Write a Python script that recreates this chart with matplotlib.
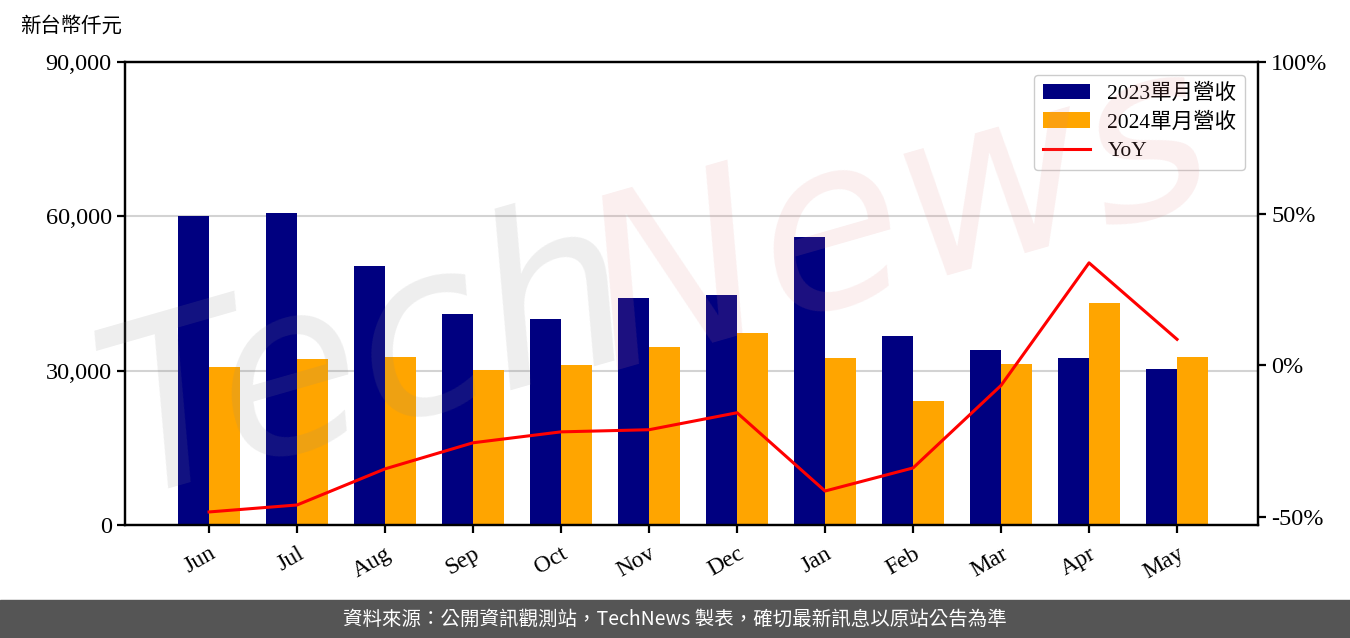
import matplotlib.pyplot as plt
import numpy as np

plt.rcParams["font.family"] = ["Liberation Serif", "Noto Sans CJK TC", "DejaVu Sans"]

months = ["Jun", "Jul", "Aug", "Sep", "Oct", "Nov", "Dec", "Jan", "Feb", "Mar", "Apr", "May"]
rev_2023 = [60000, 60600, 50300, 41000, 40000, 44100, 44700, 56000, 36700, 34000, 32450, 30300]
rev_2024 = [30700, 32250, 32650, 30100, 31100, 34600, 37300, 32450, 24100, 31300, 43150, 32650]
yoy = [-48.3, -46.0, -34.1, -25.5, -21.9, -21.2, -15.6, -41.4, -33.8, -6.6, 33.8, 8.6]

left_ticks = [0, 30000, 60000, 90000]
left_labels = ["0", "30,000", "60,000", "90,000"]
right_ticks = [-50, 0, 50, 100]
right_labels = ["-50%", "0%", "50%", "100%"]

fig = plt.figure(figsize=(13.5, 6.38), dpi=100)
ax = fig.add_axes([125 / 1350, 113 / 638, 1133 / 1350, 463 / 638])

x = np.arange(len(months))
w = 0.35
b1 = ax.bar(x - w / 2, rev_2023, w, color="#000080", label="2023單月營收", zorder=2)
b2 = ax.bar(x + w / 2, rev_2024, w, color="#FFA500", label="2024單月營收", zorder=2)

ax.set_ylim(0, 90000)
ax.set_xlim(-0.955, 11.92)
ax.set_yticks(left_ticks)
ax.set_yticklabels(left_labels, fontsize=17.5)
ax.set_xticks(x)
ax.set_xticklabels(months, rotation=30, ha="right", rotation_mode="anchor", fontsize=17)
ax.yaxis.grid(True, color="#d3d3d3", linewidth=1.5, zorder=0)
ax.set_axisbelow(True)
for s in ax.spines.values():
    s.set_linewidth(1.6)
ax.tick_params(width=1.6, length=6)
ax.tick_params(axis="x", pad=7)

ax2 = ax.twinx()
(l1,) = ax2.plot(x, yoy, color="red", linewidth=2.2, label="YoY", zorder=3)
ax2.set_ylim(-52.6, 100)
ax2.set_yticks(right_ticks)
ax2.set_yticklabels(right_labels, fontsize=17.5)
ax2.tick_params(width=1.6, length=6)
for s in ax2.spines.values():
    s.set_linewidth(1.6)

leg = ax2.legend(handles=[b1, b2, l1], loc="upper right", fontsize=15.5,
                 handlelength=2.2, borderaxespad=0.6, framealpha=1,
                 labelspacing=0.4, edgecolor="#cccccc")

fig.text(20 / 1350, 1 - 27 / 638, "新台幣仟元", fontsize=14.7, va="center", ha="left")

# watermark
fig.text(370 / 1350, 1 - 360 / 638, "Tech", fontsize=170, color="#888888", alpha=0.14,
         rotation=16, ha="center", va="center", style="italic", zorder=10,
         family="DejaVu Sans")
fig.text(900 / 1350, 1 - 220 / 638, "News", fontsize=170, color="#e08080", alpha=0.13,
         rotation=16, ha="center", va="center", style="italic", zorder=10,
         family="DejaVu Sans")

# footer band
fig.patches.append(plt.Rectangle((0, 0), 1, 38 / 638, transform=fig.transFigure,
                                 color="#555555", zorder=0))
fig.text(0.5, 19 / 638, "資料來源：公開資訊觀測站，TechNews 製表，確切最新訊息以原站公告為準",
         color="white", fontsize=14, ha="center", va="center",
         family=["Noto Sans CJK TC", "DejaVu Sans"])

fig.savefig("out.png", dpi=100)
